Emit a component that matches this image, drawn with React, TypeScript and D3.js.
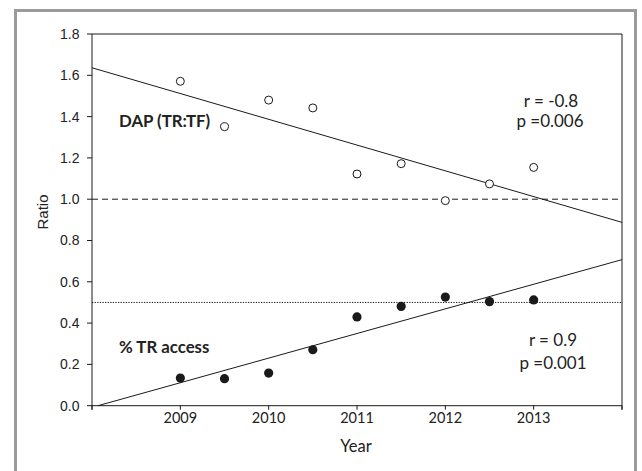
import React from "react";
import * as d3 from "d3";

const years = [2009, 2009.5, 2010, 2010.5, 2011, 2011.5, 2012, 2012.5, 2013];
const dapRatio = [1.571, 1.351, 1.48, 1.442, 1.122, 1.172, 0.993, 1.074, 1.154];
const trAccess = [0.134, 0.131, 0.158, 0.271, 0.43, 0.481, 0.526, 0.504, 0.512];
const yTicks = [0, 0.2, 0.4, 0.6, 0.8, 1.0, 1.2, 1.4, 1.6, 1.8];
const xTickYears = [2008, 2009, 2010, 2011, 2012, 2013, 2014];
const xLabelYears = [2009, 2010, 2011, 2012, 2013];
const refDashed = 1.0;
const refDotted = 0.5;
const seriesLabels = ["DAP (TR:TF)", "% TR access"];
const dapStats = ["r = -0.8", "p =0.006"];
const accessStats = ["r = 0.9", "p =0.001"];

function regress(xs: number[], ys: number[]) {
  const mx = d3.mean(xs)!;
  const my = d3.mean(ys)!;
  let sxy = 0, sxx = 0;
  xs.forEach((x, i) => {
    sxy += (x - mx) * (ys[i] - my);
    sxx += (x - mx) * (x - mx);
  });
  const b = sxy / sxx;
  const a = my - b * mx;
  return (x: number) => a + b * x;
}

export default function App() {
  const W = 642, H = 471;
  const left = 92, right = 622, top = 34, bottom = 405.7;
  const x = d3.scaleLinear().domain([2008, 2014]).range([left, right]);
  const y = d3.scaleLinear().domain([0, 1.8]).range([bottom, top]);
  const calibri = "Lato, 'Open Sans', sans-serif";
  const arial = "'Liberation Sans', Arial, sans-serif";
  const ink = "#1a1a1a";

  const f1 = regress(years, dapRatio);
  const f2 = regress(years, trAccess);
  const line = d3.line<number[]>().x((d) => x(d[0])).y((d) => y(d[1]));
  const l1 = [[2008, f1(2008)], [2014, f1(2014)]];
  // clip second regression line at y = 0
  const zeroYear = d3.scaleLinear().domain([f2(2008), f2(2014)]).range([2008, 2014])(0);
  const startYear = Math.max(2008, zeroYear);
  const l2 = [[startYear, f2(startYear)], [2014, f2(2014)]];

  return (
    <svg width={W} height={H} style={{ position: "absolute", left: 0, top: 0, background: "#fff" }}>
      <rect x={15.5} y={10.5} width={620} height={480} fill="none" stroke="#9b9b9b" strokeWidth={3} />
      {/* frame */}
      <line x1={left} x2={right} y1={top} y2={top} stroke={ink} strokeWidth={1} />
      <line x1={right} x2={right} y1={top} y2={bottom + 4} stroke={ink} strokeWidth={1} />
      <line x1={left} x2={left} y1={top} y2={bottom + 4} stroke={ink} strokeWidth={1} />
      <line x1={left} x2={right} y1={bottom} y2={bottom} stroke={ink} strokeWidth={1} />
      {/* y ticks */}
      {yTicks.map((t) => (
        <g key={"y" + t}>
          <line x1={left - 5} x2={left} y1={y(t)} y2={y(t)} stroke={ink} />
          <text x={left - 12.5} y={y(t)} dy="0.35em" textAnchor="end" fontFamily={arial} fontSize={14} fill="#222">
            {d3.format(".1f")(t)}
          </text>
        </g>
      ))}
      {/* x ticks */}
      {xTickYears.map((t) => (
        <line key={"xt" + t} x1={x(t)} x2={x(t)} y1={bottom} y2={bottom + 4} stroke={ink} />
      ))}
      {xLabelYears.map((t) => (
        <text key={"xl" + t} x={x(t)} y={423} textAnchor="middle" fontFamily={calibri} fontSize={14.5} fill="#222">
          {t}
        </text>
      ))}
      <text x={356} y={452} textAnchor="middle" fontFamily={calibri} fontSize={16.5} fill="#222">Year</text>
      <text transform={`translate(48,212) rotate(-90)`} textAnchor="middle" fontFamily={arial} fontSize={15} fill="#222">Ratio</text>

      {/* reference lines */}
      <line x1={left} x2={right} y1={y(refDashed)} y2={y(refDashed)} stroke={ink} strokeDasharray="6,4" />
      <line x1={left} x2={right} y1={y(refDotted)} y2={y(refDotted)} stroke={ink} strokeDasharray="1.3,1.3" />

      {/* regression lines */}
      <path d={line(l1)!} fill="none" stroke={ink} strokeWidth={1} />
      <path d={line(l2)!} fill="none" stroke={ink} strokeWidth={1} />

      {/* points */}
      {years.map((yr, i) => (
        <circle key={"o" + i} cx={x(yr)} cy={y(dapRatio[i])} r={4} fill="#fff" stroke={ink} strokeWidth={1} />
      ))}
      {years.map((yr, i) => (
        <circle key={"f" + i} cx={x(yr)} cy={y(trAccess[i])} r={4.6} fill={ink} />
      ))}

      {/* labels */}
      <text x={119} y={127.3} fontFamily={calibri} fontWeight="bold" fontSize={16.8} fill="#222">{seriesLabels[0]}</text>
      <text x={119} y={352.7} fontFamily={calibri} fontWeight="bold" fontSize={16.8} fill="#222">{seriesLabels[1]}</text>
      <text x={551} y={106.7} textAnchor="middle" fontFamily={calibri} fontSize={17} fill="#222">{dapStats[0]}</text>
      <text x={550} y={126.7} textAnchor="middle" fontFamily={calibri} fontSize={17} fill="#222">{dapStats[1]}</text>
      <text x={553} y={346} textAnchor="middle" fontFamily={calibri} fontSize={17} fill="#222">{accessStats[0]}</text>
      <text x={553} y={369.3} textAnchor="middle" fontFamily={calibri} fontSize={17} fill="#222">{accessStats[1]}</text>
    </svg>
  );
}
